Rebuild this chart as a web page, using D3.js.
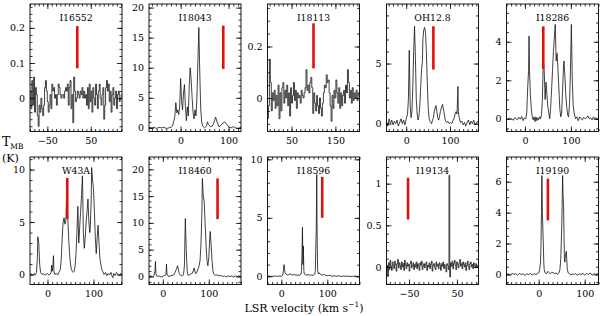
<!DOCTYPE html>
<html>
<head>
<meta charset="utf-8">
<script src="https://cdn.jsdelivr.net/npm/d3@7"></script>
<style>
  body { margin: 0; background: #fff; }
  svg { display: block; }
</style>
</head>
<body>
<div id="chart"></div>
<script>
// source names, in panel order (top row, then bottom row)
const names = ["I16552", "I18043", "I18113", "OH12.8", "I18286",
               "W43A", "I18460", "I18596", "I19134", "I19190"];

// axis ranges and tick steps
const xDomains = [[-90, 122], [-66, 126], [-5, 205], [-45, 165], [-40, 160],
                  [-38, 162], [-30, 170], [-30, 170], [-97, 95], [-70, 130]];
const yDomains = [[-0.095, 0.268], [-0.6, 20.6], [-0.13, 0.365], [-0.65, 9.95], [-0.66, 5.96],
                  [-0.95, 11.2], [-1.5, 22.3], [-0.7, 10.2], [-0.21, 1.32], [-0.65, 7.6]];
const xMajor = [100, 100, 100, 100, 100, 100, 100, 100, 100, 100];
const xMajorStart = [-50, 0, 50, 0, 0, 0, 0, 0, -50, 0];
const xMinor = [10, 10, 10, 10, 10, 10, 10, 10, 10, 10];
const yMajor = [0.1, 5, 0.2, 5, 2, 5, 5, 5, 0.5, 2];
const yMinor = [0.02, 1, 0.05, 1, 0.5, 1, 1, 1, 0.1, 0.5];

// red velocity markers: [velocity, T low, T high]
const markers = [[19, 0.085, 0.205], [89, 9.8, 17], [100, 0.115, 0.29], [62, 4.5, 8.1], [40, 2.6, 4.8],
                 [43, 5.3, 9.2], [119, 10.7, 18.3], [89, 5.0, 8.5], [-52, 0.57, 1.07], [20, 3.5, 6.2]];

// noisy histogram spectra: first channel velocity, channel width, values
const i16552 = { v0: -89, dv: 2.1, t: [
  0.02, -0.03, 0.05, -0.02, 0.06, -0.04, 0.03, 0.01,
  -0.05, -0.08, -0.02, -0.04, 0.0, -0.03, -0.05, -0.02,
  0.03, 0.05, 0.02, -0.01, -0.04, -0.02, 0.01, -0.03,
  0.04, 0.02, 0.03, 0.0, 0.01, -0.02, 0.01, 0.04,
  0.03, 0.01, 0.0, 0.01, 0.01, 0.0, 0.02, 0.03,
  0.02, 0.04, -0.02, 0.03, 0.05, -0.03, 0.01, -0.07,
  0.06, 0.02, -0.01, 0.0, 0.02, 0.01, 0.0, 0.02,
  0.01, 0.03, 0.0, 0.02, 0.0, 0.01, -0.02, 0.03,
  -0.03, 0.04, -0.01, 0.02, -0.04, 0.03, 0.0, -0.02,
  0.04, 0.01, -0.03, 0.02, 0.04, 0.0, -0.02, 0.01,
  0.03, -0.06, -0.02, 0.03, 0.05, 0.02, 0.04, -0.01,
  0.02, -0.04, 0.01, 0.03, -0.02, 0.0, 0.02, -0.03,
  0.01, 0.02, -0.01, 0.0, 0.01] };
const i18113 = { v0: -4, dv: 2.2, t: [
  -0.08, -0.03, 0.15, 0.06, -0.05, 0.02, -0.01, 0.03, -0.04, 0.01,
  -0.03, 0.05, -0.08, 0.02, -0.05, 0.04, 0.06, -0.02, 0.03, 0.0,
  0.05, -0.03, 0.02, -0.07, 0.04, -0.02, 0.01, 0.06, -0.01, 0.03,
  -0.04, 0.02, 0.0, 0.01, -0.02, 0.03, 0.01, 0.0, 0.02, 0.04,
  0.11, 0.03, 0.05, 0.02, 0.06, 0.08, 0.04, -0.06, 0.02, -0.02,
  -0.05, 0.01, -0.03, -0.06, 0.0, -0.04, -0.07, -0.02, 0.02, 0.05,
  0.04, 0.09, 0.06, 0.07, 0.02, -0.03, -0.09, 0.01, -0.04, 0.03,
  0.0, 0.07, 0.02, -0.02, 0.04, -0.04, 0.02, -0.03, 0.01, 0.03,
  -0.02, 0.05, 0.02, 0.11, 0.06, 0.0, 0.03, -0.02, 0.04, -0.01,
  0.02, 0.0, 0.03, -0.01, 0.02, 0.01] };
const i19134 = { v0: -97, dv: 1.6, t: [
  -0.06, 0.02, -0.11, 0.05, -0.03, 0.08, 0.01, -0.04, 0.06, 0.02,
  -0.02, 0.07, 0.03, -0.05, 0.04, 0.09, -0.01, 0.05, 0.02, -0.03,
  0.06, 0.0, 0.04, -0.04, 0.08, 0.02, -0.02, 0.05, 0.01, 0.03,
  -0.05, 0.04, 0.07, -0.01, 0.02, 0.05, -0.03, 0.03, 0.0, 0.06,
  -0.02, 0.04, 0.01, -0.04, 0.05, 0.02, 0.07, -0.03, 0.01, 0.04,
  -0.01, 0.03, 0.06, -0.04, 0.02, 0.0, 0.05, -0.02, 0.03, 0.07,
  -0.05, 0.02, 0.04, 0.0, -0.03, 0.06, 0.01, 0.03, -0.02, 0.05,
  0.02, -0.04, 0.04, 0.01, 0.06, -0.02, 0.03, 0.0, -0.06, 0.04,
  0.02, -0.03, 1.1, -0.12, 0.05, 0.01, 0.07, -0.02, 0.04, 0.08,
  0.02, -0.03, 0.06, 0.03, -0.01, 0.05, 0.09, 0.01, 0.04, -0.02,
  0.06, 0.03, 0.0, 0.05, -0.04, 0.02, 0.07, 0.01, -0.03, 0.04,
  0.06, 0.0, 0.03, -0.02, 0.05, 0.02, -0.01, 0.04, 0.0, 0.02] };

// line spectra as [velocity, T] points
const i18043 = [[-66,0.1],[-60,0.0],[-55,0.1],[-50,-0.1],[-45,0.1],[-40,0.0],[-35,0.1],[-30,-0.1],
  [-25,0.0],[-20,0.1],[-17,0.3],[-14,1.2],[-12,2.0],[-10,4.2],[-8,2.5],[-6,3.0],[-4,2.2],[-2,3.5],
  [0,8.2],[2,4.5],[4,3.0],[6,5.8],[8,7.2],[10,3.5],[12,1.2],[14,3.5],[16,2.0],[18,7.0],[20,10.0],
  [22,8.0],[24,5.0],[26,2.5],[28,1.5],[30,3.0],[32,2.0],[34,5.0],[36,11.0],[38,16.7],[40,9.0],
  [42,3.0],[44,1.0],[46,0.3],[50,0.0],[54,0.3],[56,1.0],[58,0.6],[62,0.2],[66,0.3],[70,1.0],
  [73,1.8],[76,1.0],[80,0.2],[84,0.4],[88,0.8],[92,1.0],[96,0.6],[100,0.2],[105,0.0],[110,0.2],
  [115,0.0],[120,-0.1],[126,0.1]];
const oh128 = [[-45,0.2],[-42,-0.2],[-39,0.4],[-36,0.0],[-33,0.3],[-30,-0.1],[-27,0.2],[-24,0.0],
  [-21,0.3],[-18,-0.2],[-15,0.1],[-12,0.4],[-9,0.0],[-6,0.3],[-3,-0.1],[0,0.4],[3,0.8],[5,2.0],
  [7,6.1],[9,1.5],[11,0.5],[13,1.0],[15,3.0],[17,6.0],[19,8.1],[21,5.5],[23,2.0],[25,0.8],[27,0.3],
  [29,0.6],[31,1.5],[33,3.0],[35,4.5],[37,5.2],[38,7.0],[40,7.8],[42,8.0],[44,7.6],[46,6.0],
  [48,3.5],[50,1.5],[52,0.5],[54,0.2],[56,0.1],[58,0.0],[60,0.3],[62,0.5],[64,1.0],[66,1.3],
  [68,1.5],[70,1.0],[72,0.5],[74,0.3],[76,0.6],[78,1.0],[80,1.3],[83,1.6],[86,1.0],[89,0.3],
  [92,0.1],[95,0.2],[98,0.0],[101,0.1],[104,0.0],[107,0.3],[110,0.5],[112,0.9],[114,1.0],
  [116,0.8],[118,3.1],[119,1.0],[121,0.5],[124,0.1],[127,0.2],[130,-0.1],[133,0.1],[136,-0.2],
  [139,0.1],[142,0.3],[145,-0.1],[148,0.2],[151,0.0],[154,0.3],[157,-0.1],[160,0.1],[163,0.2],[165,0.0]];
const i18286 = [[-40,0.0],[-37,-0.05],[-34,0.05],[-31,-0.03],[-28,0.0],[-25,-0.08],[-22,0.06],
  [-19,0.0],[-16,-0.05],[-13,0.08],[-10,-0.02],[-7,0.12],[-4,-0.1],[-1,0.05],[2,0.0],[4,0.3],
  [6,1.6],[8,2.5],[9,4.3],[10,2.5],[12,1.2],[14,0.5],[16,0.1],[18,-0.05],[20,0.1],[22,-0.15],
  [24,0.1],[26,-0.1],[28,0.05],[30,-0.05],[32,0.1],[34,0.0],[36,0.2],[38,1.0],[40,3.0],[42,2.5],
  [44,1.0],[46,1.9],[48,1.2],[50,0.6],[52,0.3],[54,0.0],[56,0.6],[58,1.5],[60,2.5],[62,3.5],
  [64,4.2],[66,4.9],[68,3.0],[70,3.4],[72,2.5],[74,1.5],[76,0.5],[78,0.1],[80,0.3],[82,1.5],
  [84,2.8],[85,3.0],[87,2.2],[89,1.2],[91,0.6],[93,0.2],[95,0.1],[97,0.8],[99,2.5],[101,4.9],
  [103,2.0],[105,0.7],[107,0.3],[110,0.0],[113,0.1],[116,-0.1],[119,0.1],[122,0.0],[125,-0.05],
  [128,0.08],[131,0.0],[134,0.05],[137,0.15],[140,0.0],[143,0.05],[146,-0.05],[149,0.1],
  [152,0.0],[155,0.05],[158,-0.05],[160,0.05]];
const w43a = [[-38,0.0],[-35,0.05],[-32,-0.05],[-29,0.1],[-26,0.0],[-24,0.2],[-22,1.5],[-21,3.6],
  [-19,3.0],[-17,1.0],[-15,0.2],[-12,0.0],[-9,0.1],[-6,-0.05],[-3,0.0],[0,0.1],[3,-0.05],[6,0.05],
  [8,0.2],[9,0.9],[10,0.3],[11,0.6],[12,1.0],[13,1.8],[14,0.3],[16,0.0],[19,0.1],[22,-0.05],
  [25,0.2],[28,0.5],[30,1.5],[32,3.5],[34,5.0],[36,5.4],[38,4.8],[40,5.2],[42,8.0],[44,5.5],
  [46,3.5],[48,2.0],[50,1.0],[52,0.5],[54,0.3],[56,0.2],[58,0.3],[60,0.8],[62,2.0],[64,4.0],
  [66,6.5],[68,3.0],[70,4.5],[72,6.0],[74,7.5],[76,9.4],[78,4.0],[80,2.5],[82,3.5],[84,5.0],
  [86,6.0],[88,7.2],[90,5.0],[92,4.0],[93,4.5],[95,7.0],[96,10.2],[98,9.0],[100,8.2],[102,6.0],
  [104,3.5],[106,2.0],[108,3.5],[110,4.7],[112,3.0],[114,1.5],[116,1.0],[118,0.5],[120,0.3],
  [123,0.0],[126,0.2],[129,-0.1],[132,0.1],[135,-0.05],[138,0.2],[140,-0.1],[142,-0.3],[144,0.1],
  [147,-0.1],[150,0.2],[153,0.0],[156,-0.1],[159,0.1],[162,0.0]];
const i18460 = [[-30,0.0],[-26,0.1],[-22,-0.1],[-19,0.2],[-17,1.0],[-16,2.8],[-15,0.5],[-12,0.0],
  [-8,0.1],[-4,-0.1],[0,0.0],[4,0.2],[7,0.3],[8,2.3],[9,0.5],[12,0.0],[16,0.1],[20,0.2],[24,0.3],
  [27,0.8],[30,1.5],[32,2.0],[34,1.2],[36,0.5],[39,0.2],[42,0.1],[45,0.3],[47,2.0],[49,10.8],
  [51,5.0],[53,1.0],[55,0.2],[58,0.3],[61,0.5],[64,0.6],[66,1.0],[68,1.6],[70,0.8],[72,0.5],
  [74,0.8],[77,1.5],[79,2.0],[81,3.0],[83,6.0],[85,12.0],[86,18.3],[88,15.0],[90,14.0],[92,10.0],
  [94,6.0],[96,3.0],[98,2.0],[100,3.5],[102,7.0],[103,8.4],[105,6.0],[107,3.0],[109,1.0],
  [111,0.4],[114,0.2],[118,0.3],[122,0.1],[126,0.2],[130,0.0],[134,0.1],[138,-0.1],[142,0.1],
  [146,0.0],[150,0.1],[154,-0.1],[158,0.1],[162,0.0],[166,0.1],[170,0.0]];
const i18596 = [[-30,0.0],[-25,0.02],[-20,-0.02],[-15,0.03],[-10,0.0],[-5,0.02],[0,0.0],[3,0.1],
  [5,0.6],[6,1.0],[7,0.7],[8,0.3],[10,0.2],[13,0.1],[16,0.15],[20,0.2],[24,0.1],[28,0.15],
  [32,0.1],[36,0.1],[40,0.1],[43,0.2],[44,0.5],[45,2.0],[46,4.2],[47,1.0],[48,2.6],[49,0.5],
  [50,0.2],[54,0.1],[58,0.15],[62,0.1],[66,0.1],[70,0.1],[73,0.2],[74,0.5],[75,2.5],[76,4.0],
  [77,8.7],[78,3.0],[79,0.5],[81,0.2],[82,0.3],[84,0.2],[88,0.1],[92,0.15],[96,0.1],[100,0.05],
  [105,0.1],[110,0.0],[115,0.05],[120,0.0],[125,0.05],[130,-0.02],[135,0.03],[140,0.0],
  [145,0.02],[150,-0.02],[155,0.0],[160,0.02],[165,-0.01],[170,0.0]];
const i19190 = [[-70,0.0],[-66,0.05],[-62,-0.05],[-58,0.08],[-54,0.0],[-50,0.05],[-46,-0.05],
  [-42,0.06],[-38,0.0],[-34,0.05],[-30,-0.06],[-26,0.04],[-22,0.0],[-18,0.06],[-14,-0.04],
  [-10,0.05],[-6,0.0],[-3,0.05],[0,0.1],[2,0.3],[4,0.8],[5,2.0],[6,4.0],[7,6.4],[8,4.0],[9,3.0],
  [10,2.0],[11,0.8],[12,0.3],[14,0.1],[17,0.05],[20,0.2],[23,0.1],[26,0.05],[29,0.15],[32,0.1],
  [35,0.05],[38,0.1],[41,0.0],[44,0.1],[46,0.3],[48,1.0],[50,3.0],[51,4.5],[52,6.4],[53,5.0],
  [54,4.6],[55,2.5],[56,1.0],[57,0.8],[58,1.2],[60,1.5],[61,1.0],[62,0.4],[64,0.1],[67,0.05],
  [70,-0.05],[73,0.05],[76,0.0],[80,0.05],[84,-0.05],[88,0.05],[92,0.0],[96,0.06],[100,-0.04],
  [104,0.05],[108,0.0],[112,0.1],[116,-0.05],[120,0.05],[124,0.0],[128,0.05],[130,0.0]];

function channels(s) {
  return s.t.map((t, i) => [s.v0 + i * s.dv, t]);
}

const spectra = [
  { pts: channels(i16552), step: true }, { pts: i18043, step: false },
  { pts: channels(i18113), step: true }, { pts: oh128, step: false },
  { pts: i18286, step: false }, { pts: w43a, step: false },
  { pts: i18460, step: false }, { pts: i18596, step: false },
  { pts: channels(i19134), step: true }, { pts: i19190, step: false },
];

const FONT = "'DejaVu Serif', 'Liberation Serif', serif";
const W = 600, H = 316;
const panelW = 92, panelH = 127.5;
const colLeft = [30, 149, 267.5, 386.5, 506.5];
const rowTop = [4, 157];

const svg = d3.select("#chart").append("svg")
  .attr("width", W).attr("height", H)
  .attr("font-family", FONT);

const fmt = (d) => {
  const v = Math.abs(+d.toFixed(3));
  return (d < -1e-9 ? "\u2212" : "") + v;
};

function ticksFor(domain, step, start) {
  const lo = Math.ceil((domain[0] - start) / step - 1e-9);
  const hi = Math.floor((domain[1] - start) / step + 1e-9);
  return d3.range(lo, hi + 1).map((k) => +(start + k * step).toFixed(4));
}

names.forEach((name, i) => {
  const left = colLeft[i % 5], top = rowTop[Math.floor(i / 5)];
  const g = svg.append("g").attr("transform", `translate(${left},${top})`);

  const x = d3.scaleLinear().domain(xDomains[i]).range([0, panelW]);
  const y = d3.scaleLinear().domain(yDomains[i]).range([panelH, 0]);

  const xMaj = ticksFor(xDomains[i], xMajor[i], xMajorStart[i]);
  const xMin = ticksFor(xDomains[i], xMinor[i], 0);
  const yMaj = ticksFor(yDomains[i], yMajor[i], 0);
  const yMin = ticksFor(yDomains[i], yMinor[i], 0);

  g.append("clipPath").attr("id", `clip${i}`)
    .append("rect").attr("width", panelW).attr("height", panelH);

  // spectrum
  const line = d3.line()
    .x((d) => x(d[0]))
    .y((d) => y(d[1]))
    .curve(spectra[i].step ? d3.curveStep : d3.curveLinear);
  g.append("path")
    .datum(spectra[i].pts)
    .attr("clip-path", `url(#clip${i})`)
    .attr("fill", "none")
    .attr("stroke", "#111")
    .attr("stroke-width", 0.8)
    .attr("stroke-linejoin", "round")
    .attr("d", line);

  // red velocity marker
  const m = markers[i];
  g.append("line")
    .attr("x1", x(m[0])).attr("x2", x(m[0]))
    .attr("y1", y(m[1])).attr("y2", y(m[2]))
    .attr("stroke", "#e01010")
    .attr("stroke-width", 2.6);

  // axes: inward ticks on all four sides, labels only bottom and left
  const axes = [
    [() => d3.axisBottom(x), `translate(0,${panelH})`, xMaj, xMin, 6],
    [() => d3.axisTop(x), "translate(0,0)", xMaj, xMin, 0],
    [() => d3.axisLeft(y), "translate(0,0)", yMaj, yMin, 5],
    [() => d3.axisRight(y), `translate(${panelW},0)`, yMaj, yMin, 0],
  ];
  axes.forEach(([mk, tr, maj, min, pad]) => {
    g.append("g").attr("transform", tr)
      .call(mk().tickValues(min).tickSize(-2.5).tickFormat(""))
      .call((a) => a.select(".domain").remove());
    const major = g.append("g").attr("transform", tr)
      .call(mk().tickValues(maj).tickSize(-5).tickPadding(pad)
        .tickFormat(pad ? fmt : ""))
      .call((a) => a.select(".domain").remove());
    major.attr("font-family", FONT).attr("font-size", 9.5);
    major.selectAll("text").attr("fill", "#000");
  });

  g.selectAll(".tick line").attr("stroke", "#000").attr("stroke-width", 0.8);

  // frame
  g.append("rect")
    .attr("width", panelW).attr("height", panelH)
    .attr("fill", "none").attr("stroke", "#000").attr("stroke-width", 0.9);

  // source name
  g.append("text")
    .attr("x", panelW / 2).attr("y", 16.5)
    .attr("text-anchor", "middle")
    .attr("font-size", 9.3)
    .text(name);
});

svg.append("text")
  .attr("x", 304).attr("y", 311.5)
  .attr("text-anchor", "middle")
  .attr("font-size", 11)
  .call((t) => {
    t.append("tspan").text("LSR velocity (km s");
    t.append("tspan").attr("font-size", 7.5).attr("dy", -4.5).text("\u22121");
    t.append("tspan").attr("dy", 4.5).text(")");
  });

const tLabel = svg.append("g").attr("transform", "translate(2,0)");
tLabel.append("text").attr("x", 0).attr("y", 146).attr("font-size", 12.5)
  .call((t) => {
    t.append("tspan").text("T");
    t.append("tspan").attr("font-size", 7.5).attr("dy", 2.5).text("MB");
  });
tLabel.append("text").attr("x", 0).attr("y", 162).attr("font-size", 11).text("(K)");
</script>
</body>
</html>
